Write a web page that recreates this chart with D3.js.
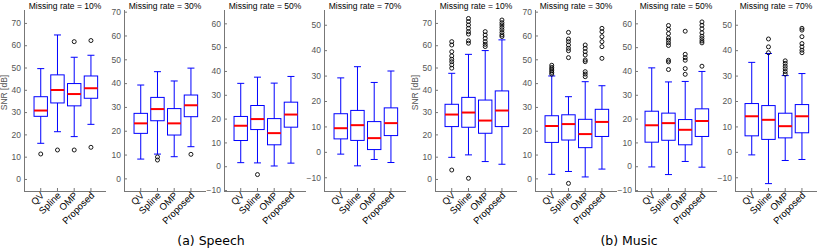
<!DOCTYPE html>
<html lang="en">
<head>
<meta charset="UTF-8">
<title>SNR box plots</title>
<script src="https://d3js.org/d3.v7.min.js"></script>
<style>
    body { margin: 0; background: #fff; }
    .tick text { font-family: "Liberation Sans", Arial, sans-serif; font-size: 8.5px; fill: #555; }
    .title { font-family: "Liberation Sans", Arial, sans-serif; font-size: 8.5px; fill: #000; }
    .xlab { font-family: "Liberation Sans", Arial, sans-serif; font-size: 9.5px; fill: #000; }
    .caption { font-family: "DejaVu Sans", sans-serif; font-size: 12.5px; fill: #000; }
</style>
</head>
<body>
<svg width="822" height="250"></svg>
<script>
    // categories
    const methods = ["QV", "Spline", "OMP", "Proposed"];
    const rates = ["10%", "30%", "50%", "70%"];
    const groups = ["(a) Speech", "(b) Music"];

    // y limits for each missing rate
    const yLimits = [[-5.4, 75.8], [-5.3, 70.7], [-10.4, 65.6], [-15.4, 55.8]];

    // box stats: [lower whisker, q1, median, q3, upper whisker]
    const speechStats = [
        [[16, 28.1, 30.7, 36.9, 49.5], [21.2, 34.1, 39.9, 46.7, 64.6], [19, 32.8, 38.1, 42.8, 54.6], [24.5, 36.2, 40.7, 46.2, 55.5]],
        [[8.1, 18.9, 23.1, 27.3, 39.2], [10.2, 24.2, 29.1, 34.0, 44.8], [9.1, 18.2, 23.1, 29.3, 40.9], [13.3, 25.9, 30.7, 35.0, 46.3]],
        [[1.5, 10.8, 17.0, 20.9, 34.8], [1.4, 15.4, 19.8, 25.5, 37.4], [0.1, 9.0, 13.9, 20.0, 34.9], [1.3, 16.4, 21.7, 26.9, 37.7]],
        [[-0.9, 5.1, 9.3, 15.0, 29.1], [-5.5, 4.5, 10.5, 16.3, 33.5], [-3.0, 0.9, 5.4, 11.9, 27.3], [-4.2, 6.4, 11.3, 17.3, 31.8]]
    ];
    const speechOutliers = [
        [[11.2], [13.0], [61.6, 13.0], [62.1, 14.2]],
        [[], [9.0, 7.7], [], [10.1]],
        [[], [-3.5], [], []],
        [[], [], [], []]
    ];

    const musicStats = [
        [[9.7, 23.5, 28.9, 33.5, 47.4], [10.8, 23.2, 29.8, 36.6, 55.9], [7.8, 20.5, 26.2, 35.4, 57.6], [6.6, 23.5, 30.7, 39.5, 62.4]],
        [[1.7, 15.1, 22.0, 26.3, 43.0], [2.9, 16.1, 22.8, 26.7, 34.3], [0.6, 12.9, 18.6, 24.8, 40.6], [3.9, 17.6, 23.7, 29.0, 38.9]],
        [[-0.3, 10.1, 17.2, 23.1, 41.3], [-3.5, 10.9, 18.1, 22.3, 35.4], [2.0, 9.0, 15.3, 19.6, 35.6], [-0.4, 12.5, 19.0, 24.1, 39.8]],
        [[-1.2, 6.3, 14.0, 19.0, 35.2], [-12.5, 4.9, 12.6, 18.2, 38.7], [-3.4, 5.5, 10.1, 15.2, 30.0], [-3.0, 7.5, 14.0, 18.6, 30.8]]
    ];
    const musicOutliers = [
        [[61.6, 60.1, 57.1, 55.2, 53.7, 52.6, 51.2, 49.7, 4.0],
         [72.0, 70.6, 69.1, 67.6, 66.1, 65.0, 62.0, 60.9, 0.3],
         [66.1, 64.6, 63.1, 61.6, 60.4, 59.4],
         [71.3, 70.1, 69.1, 68.0, 66.9, 65.7, 64.6, 63.9]],
        [[47.5, 46.6, 45.9, 45.2, 44.5, 43.8],
         [61.3, 58.5, 57.4, 56.0, 54.6, 53.6, 50.7, -2.1],
         [56.0, 54.6, 53.2, 51.8, 49.7, 49.0, 44.8, 43.8, 42.7],
         [63.0, 61.6, 59.5, 57.4, 55.3, 50.4]],
        [[],
         [59.1, 57.5, 55.7, 53.9, 52.9, 51.8, 50.7, 44.5, 43.8, 40.6],
         [56.7, 47.0, 45.6, 44.5, 41.0, 38.6],
         [60.6, 59.2, 57.7, 56.0, 54.6, 53.6, 52.6, 51.8, 42.0]],
        [[],
         [44.4, 41.3, 39.0],
         [35.8, 34.8, 33.7, 32.7, 31.6, 30.6],
         [48.6, 47.9, 45.3, 42.6, 41.3, 40.0, 39.0]]
    ];

    const allStats = [speechStats, musicStats];
    const allOutliers = [speechOutliers, musicOutliers];

    const svg = d3.select("svg");
    const groupLeft = [24, 435];
    const panelStep = 100, panelW = 82;
    const plotTop = 10, plotBottom = 191;
    const boxW = 13.4, capW = 7;

    groups.forEach(function (gName, gi) {
        rates.forEach(function (rate, ri) {
            const left = groupLeft[gi] + ri * panelStep;
            const x = d3.scaleLinear().domain([0, 4.9]).range([left, left + panelW]);
            const y = d3.scaleLinear().domain(yLimits[ri]).range([plotBottom, plotTop]);

            const g = svg.append("g");

            // y axis, ticks pointing inward
            const ya = g.append("g")
                .attr("transform", "translate(" + left + ",0)")
                .call(d3.axisLeft(y).ticks(8).tickSize(-3).tickPadding(3).tickSizeOuter(0));
            ya.select(".domain").remove();
            ya.selectAll("line").attr("stroke", "#777");
            g.append("line")
                .attr("x1", left + 0.5).attr("x2", left + 0.5)
                .attr("y1", plotTop).attr("y2", plotBottom)
                .attr("stroke", "#777");

            // x axis
            g.append("line")
                .attr("x1", left).attr("x2", left + panelW)
                .attr("y1", plotBottom + 0.5).attr("y2", plotBottom + 0.5)
                .attr("stroke", "#777");
            g.selectAll(".xt").data(methods).enter().append("line")
                .attr("x1", (d, i) => x(i + 1)).attr("x2", (d, i) => x(i + 1))
                .attr("y1", plotBottom).attr("y2", plotBottom - 3)
                .attr("stroke", "#777");
            g.selectAll(".xlab").data(methods).enter().append("text")
                .attr("class", "xlab")
                .attr("text-anchor", "end")
                .attr("transform", (d, i) => "translate(" + (x(i + 1) + 4) + "," + (plotBottom + 5) + ") rotate(-45)")
                .text(d => d);

            // title
            g.append("text").attr("class", "title")
                .attr("x", left + panelW / 2).attr("y", 8.5)
                .attr("text-anchor", "middle")
                .text("Missing rate = " + rate);

            if (ri === 0) {
                g.append("text")
                    .attr("transform", "translate(" + (left - 17) + "," + ((plotTop + plotBottom) / 2 - 8) + ") rotate(-90)")
                    .attr("text-anchor", "middle")
                    .style("font-family", "Liberation Sans, Arial, sans-serif")
                    .style("font-size", "8.5px").style("fill", "#555")
                    .text("SNR [dB]");
            }

            const stats = allStats[gi][ri];
            const outs = allOutliers[gi][ri];

            stats.forEach(function (s, mi) {
                const cx = x(mi + 1);
                const b = g.append("g").attr("stroke", "#0000ff").attr("fill", "none");
                // whiskers
                b.append("line").attr("x1", cx).attr("x2", cx).attr("y1", y(s[3])).attr("y2", y(s[4]));
                b.append("line").attr("x1", cx).attr("x2", cx).attr("y1", y(s[1])).attr("y2", y(s[0]));
                b.append("line").attr("x1", cx - capW / 2).attr("x2", cx + capW / 2).attr("y1", y(s[4])).attr("y2", y(s[4]));
                b.append("line").attr("x1", cx - capW / 2).attr("x2", cx + capW / 2).attr("y1", y(s[0])).attr("y2", y(s[0]));
                // box
                b.append("rect")
                    .attr("x", cx - boxW / 2).attr("width", boxW)
                    .attr("y", y(s[3])).attr("height", y(s[1]) - y(s[3]));
                // median
                g.append("line")
                    .attr("x1", cx - boxW / 2).attr("x2", cx + boxW / 2)
                    .attr("y1", y(s[2])).attr("y2", y(s[2]))
                    .attr("stroke", "#ff0000").attr("stroke-width", 2);
                // outliers
                g.selectAll(null).data(outs[mi]).enter().append("circle")
                    .attr("cx", cx).attr("cy", d => y(d)).attr("r", 2)
                    .attr("fill", "none").attr("stroke", "#000").attr("stroke-width", 0.9);
            });
        });

        svg.append("text").attr("class", "caption")
            .attr("x", [211, 629][gi]).attr("y", 245)
            .attr("text-anchor", "middle")
            .text(gName);
    });
</script>
</body>
</html>
